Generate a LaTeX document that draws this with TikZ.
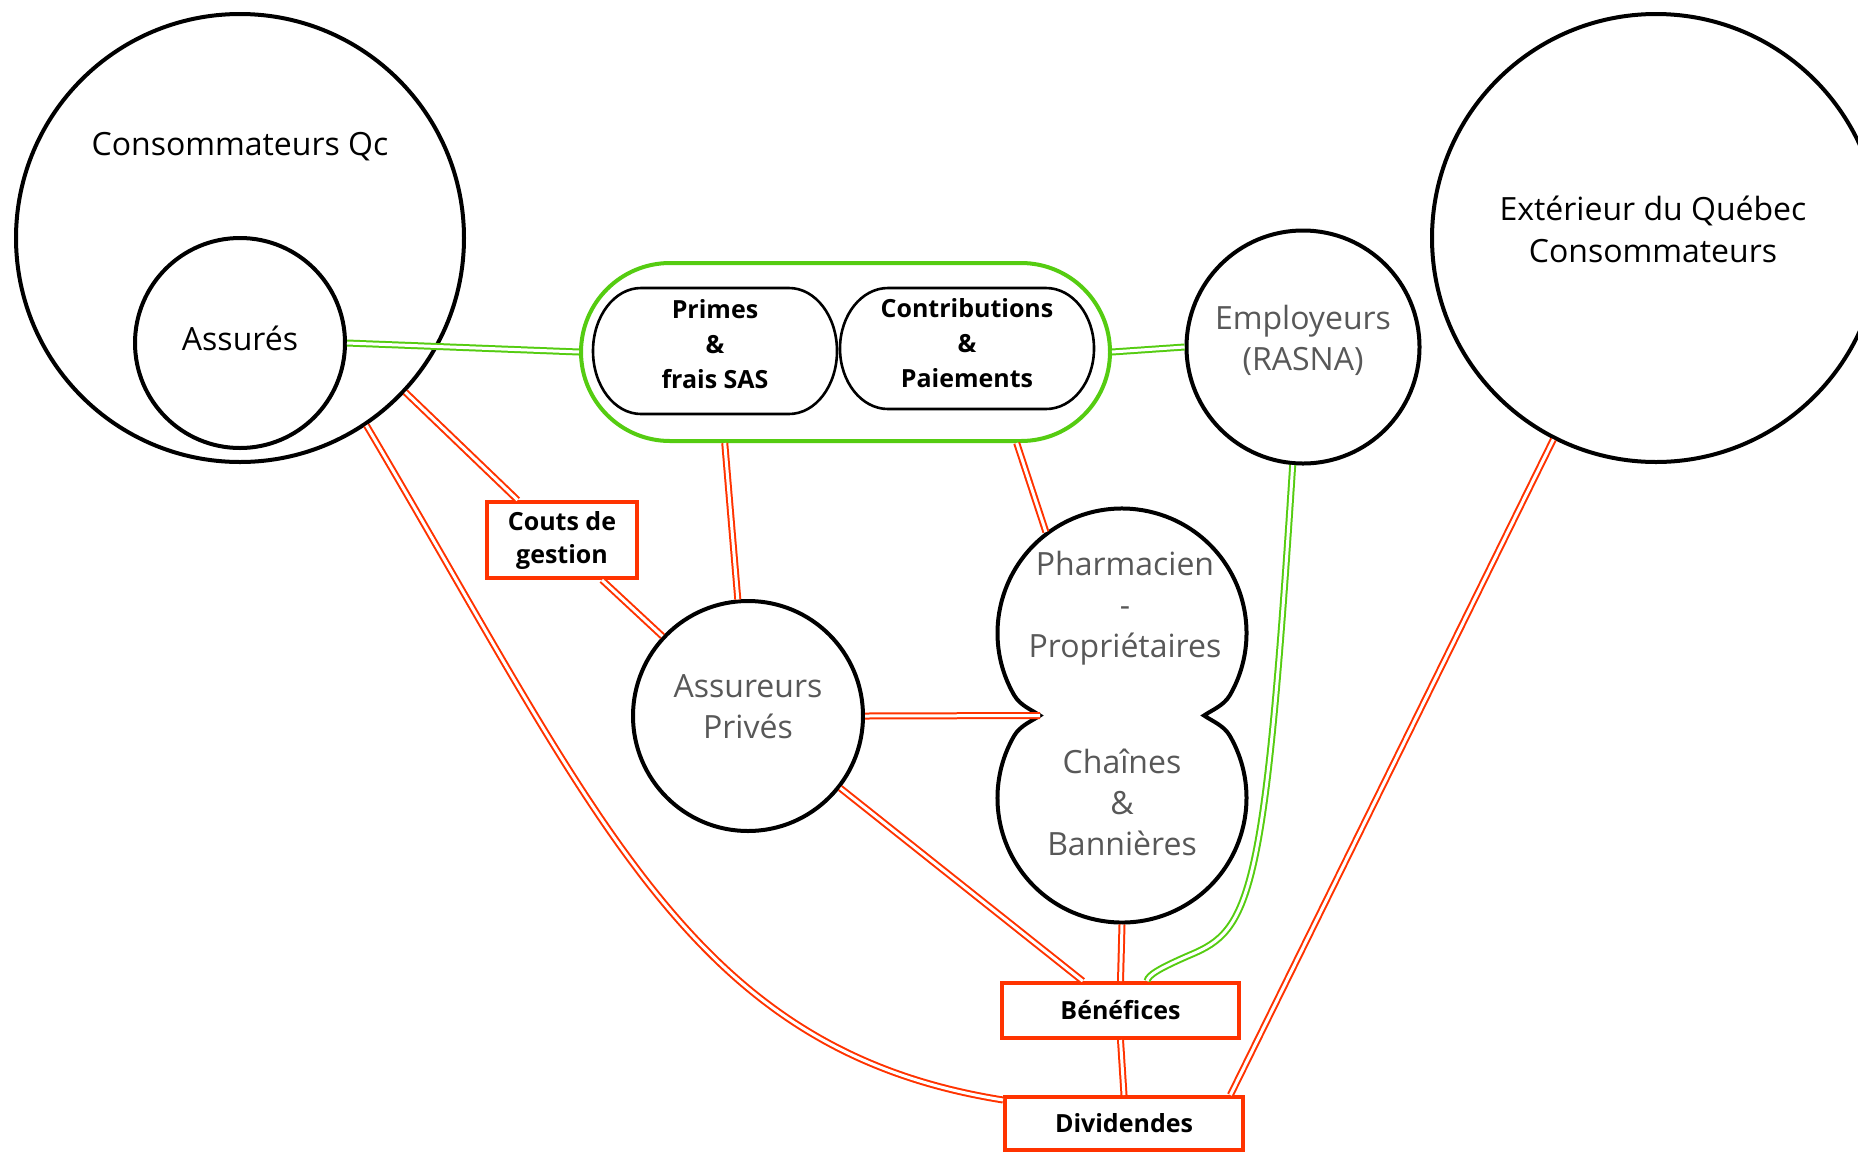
\documentclass[tikz,border=0pt]{standalone}
\usepackage{fontspec}
\setmainfont{Open Sans}
\usetikzlibrary{calc}
\definecolor{rd}{RGB}{255,51,0}
\definecolor{gr}{RGB}{85,204,17}
\definecolor{tg}{RGB}{88,88,88}
\begin{document}
\begin{tikzpicture}[x=0.5pt,y=-0.5pt,
  ent/.style={circle,draw=black,line width=2pt,fill=white,inner sep=0pt,outer sep=1pt},
  bigtxt/.style={align=center,font=\fontsize{16}{21}\selectfont},
  greytxt/.style={align=center,text=tg,font=\fontsize{16}{20.5}\selectfont},
  pilltxt/.style={align=center,font=\bfseries\fontsize{12.5}{17.5}\selectfont},
  bx/.style={rectangle,draw=rd,line width=2pt,fill=white,inner sep=0pt,outer sep=1pt,align=center,font=\bfseries\fontsize{12.5}{16.5}\selectfont},
  rl/.style={draw=rd,double=white,double distance=1.5pt,line width=1pt},
  gl/.style={draw=gr,double=white,double distance=1.5pt,line width=1pt},
  pillbox/.style={rectangle,inner sep=0pt,outer sep=0pt},
  pillline/.style={draw=black,line width=1.3pt,fill=white}
]
\useasboundingbox (0,0) rectangle (1858,1152);
\fill[white] (0,0) rectangle (1858,1152);

% big circles
\node[ent,minimum size=224pt] (consqc) at (240,238) {};
\node[ent,minimum size=224pt] (ext) at (1656,238) {};
\node[ent,minimum size=105pt] (assures) at (240,343) {};
\node[ent,minimum size=116.5pt] (emp) at (1303,347) {};
\node[ent,minimum size=115pt] (assur) at (748,716) {};

% green box with pills
\node[draw=gr,line width=2pt,rounded corners=44.5pt,minimum width=264.5pt,minimum height=89pt,inner sep=0pt,outer sep=1pt,fill=white] (gbox) at (845.5,352) {};
\node[pillbox,minimum width=122pt,minimum height=63pt] (p1) at (715,351) {};
\node[pillbox,minimum width=127pt,minimum height=60.5pt] (p2) at (967,348.5) {};
\draw[pillline] ($(p1.north west)+(24pt,0)$) -- ($(p1.north east)+(-24pt,0)$)
  arc[start angle=90,end angle=-90,x radius=24pt,y radius=31.5pt]
  -- ($(p1.south west)+(24pt,0)$)
  arc[start angle=-90,end angle=-270,x radius=24pt,y radius=31.5pt] -- cycle;
\draw[pillline] ($(p2.north west)+(24pt,0)$) -- ($(p2.north east)+(-24pt,0)$)
  arc[start angle=90,end angle=-90,x radius=24pt,y radius=30.25pt]
  -- ($(p2.south west)+(24pt,0)$)
  arc[start angle=-90,end angle=-270,x radius=24pt,y radius=30.25pt] -- cycle;

% pharmacien double circle
\node[circle,minimum size=124.5pt,inner sep=0pt,outer sep=1pt] (ph) at (1122,633) {};
\node[circle,minimum size=124.5pt,inner sep=0pt,outer sep=1pt] (ch) at (1122,798) {};
\coordinate (notchL) at (1040,715.5);
\coordinate (notchR) at (1204,715.5);
\draw[line width=2pt,fill=white] (notchL) .. controls (1032,710) and (1020.2,705.6) .. (1014.2,695.25)
  arc[start angle=210,end angle=-30,radius=62.25pt]
  .. controls (1223.8,705.6) and (1212,710) .. (notchR)
  .. controls (1212,721) and (1223.8,725.4) .. (1229.8,735.75)
  arc[start angle=30,end angle=-210,radius=62.25pt]
  .. controls (1020.2,725.4) and (1032,721) .. (notchL) -- cycle;

% red boxes
\node[bx,minimum width=75pt,minimum height=38pt] (couts) at (562,540) {Couts de\\gestion};
\node[bx,minimum width=118.5pt,minimum height=27.5pt] (benef) at (1120.5,1010.5) {Bénéfices};
\node[bx,minimum width=119pt,minimum height=26.5pt] (divid) at (1124,1123.5) {Dividendes};

% texts
\node[bigtxt] (consqcl) at (240,147) {Consommateurs Qc};
\node[bigtxt] (assuresl) at (240,338) {Assurés};
\node[bigtxt] (extl) at (1653,229) {Extérieur du Québec\\Consommateurs};
\node[greytxt] (empl) at (1303,340) {Employeurs\\(RASNA)};
\node[greytxt] (assurl) at (748,707) {Assureurs\\Privés};
\node[greytxt] (phl) at (1125,608) {Pharmacien\\-\\Propriétaires};
\node[greytxt] (chl) at (1122,802) {Chaînes\\\&\\Bannières};
\node[pilltxt] (p1l) at (715,344) {Primes\\\&\\frais SAS};
\node[pilltxt] (p2l) at (967,343) {Contributions\\\&\\Paiements};

% green connectors
\draw[gl] (assures.east) -- (gbox.west);
\draw[gl] (gbox.east) -- (emp.west);
\draw[gl] (emp.-95.5) .. controls (1265,900) and (1250,930) .. (1190,955)
  .. controls (1160,968) and (1148,975) .. (benef.48);

% red connectors
\draw[rl] (consqc.-43.5) -- (couts.138);
\draw[rl] (couts.-45) -- (assur.137);
\draw[rl] (consqc.-56) .. controls (600,820) and (690,1050) .. (divid.169);
\draw[rl] (gbox.-143.6) -- (assur.95);
\draw[rl] (gbox.-28.9) -- (ph.127);
\draw[rl] (assur.east) -- (notchL);
\draw[rl] (assur.-38) -- (benef.142);
\draw[rl] (ch.south) -- (benef.north);
\draw[rl] (benef.south) -- (divid.north);
\draw[rl] (ext.-117.5) -- (divid.15.4);
\end{tikzpicture}
\end{document}
